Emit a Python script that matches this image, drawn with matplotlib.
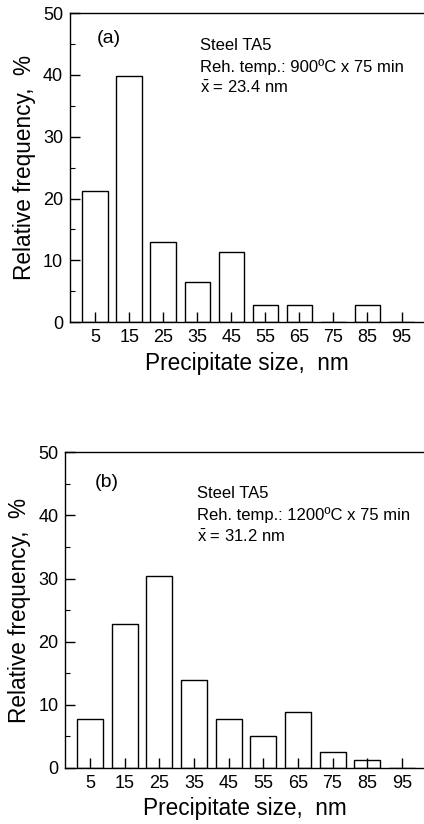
import matplotlib
matplotlib.use('Agg')
import matplotlib.pyplot as plt
from matplotlib.ticker import MultipleLocator

plt.rcParams['font.family'] = ['Liberation Sans', 'DejaVu Sans']
plt.rcParams['mathtext.fontset'] = 'custom'
plt.rcParams['mathtext.rm'] = 'Liberation Sans'
plt.rcParams['mathtext.it'] = 'Liberation Sans'

# bin centres (nm)
sizes = [5, 15, 25, 35, 45, 55, 65, 75, 85, 95]
# relative frequency (%)
freq_a = [21.3, 39.8, 12.9, 6.5, 11.4, 2.8, 2.8, 0, 2.8, 0]
freq_b = [7.7, 22.8, 30.4, 14.0, 7.7, 5.1, 8.9, 2.5, 1.3, 0]

labels = ['(a)', '(b)']
temps = ['900ºC', '1200ºC']
means = ['23.4', '31.2']

fig = plt.figure(figsize=(4.24, 8.24), dpi=100)
ax_a = fig.add_axes([0.165, 0.609, 0.835, 0.375])
ax_b = fig.add_axes([0.154, 0.068, 0.846, 0.383])

panels = [
    (ax_a, freq_a, (-2.4, 101.6), (0.075, 0.919), [0.896, 0.825, 0.757]),
    (ax_b, freq_b, (-2.1, 101.4), (0.081, 0.904), [0.870, 0.801, 0.732]),
]

for i, (ax, freq, xlim, lab_pos, line_y) in enumerate(panels):
    ax.set_axisbelow(False)
    ax.bar(sizes, freq, width=7.5, facecolor='white', edgecolor='black', linewidth=1.0, zorder=1)
    ax.set_xlim(*xlim)
    ax.set_ylim(0, 50)
    ax.set_xticks(sizes)
    ax.yaxis.set_major_locator(MultipleLocator(10))
    ax.yaxis.set_minor_locator(MultipleLocator(5))
    ax.tick_params(axis='both', which='major', direction='in', length=7, width=1.0,
                   labelsize=13, pad=5, top=False, right=False)
    ax.tick_params(axis='y', which='minor', direction='in', length=3.5, width=0.8, right=False)
    ax.spines['right'].set_visible(False)
    for s in ['left', 'top', 'bottom']:
        ax.spines[s].set_linewidth(1.0)
    ax.set_xlabel('Precipitate size,  nm', fontsize=16.3, labelpad=4)
    ax.set_ylabel('Relative frequency,  %', fontsize=16.3, labelpad=5)

    ax.text(lab_pos[0], lab_pos[1], labels[i], transform=ax.transAxes,
            fontsize=14, va='center', ha='left')
    ax.text(0.367, line_y[0], 'Steel TA5', transform=ax.transAxes,
            fontsize=12, va='center', ha='left')
    ax.text(0.367, line_y[1], 'Reh. temp.: %s x 75 min' % temps[i], transform=ax.transAxes,
            fontsize=12, va='center', ha='left')
    ax.text(0.367, line_y[2], r'$\bar{\mathrm{x}}$ = %s nm' % means[i], transform=ax.transAxes,
            fontsize=12, va='center', ha='left')

fig.savefig('out.png', dpi=100)
